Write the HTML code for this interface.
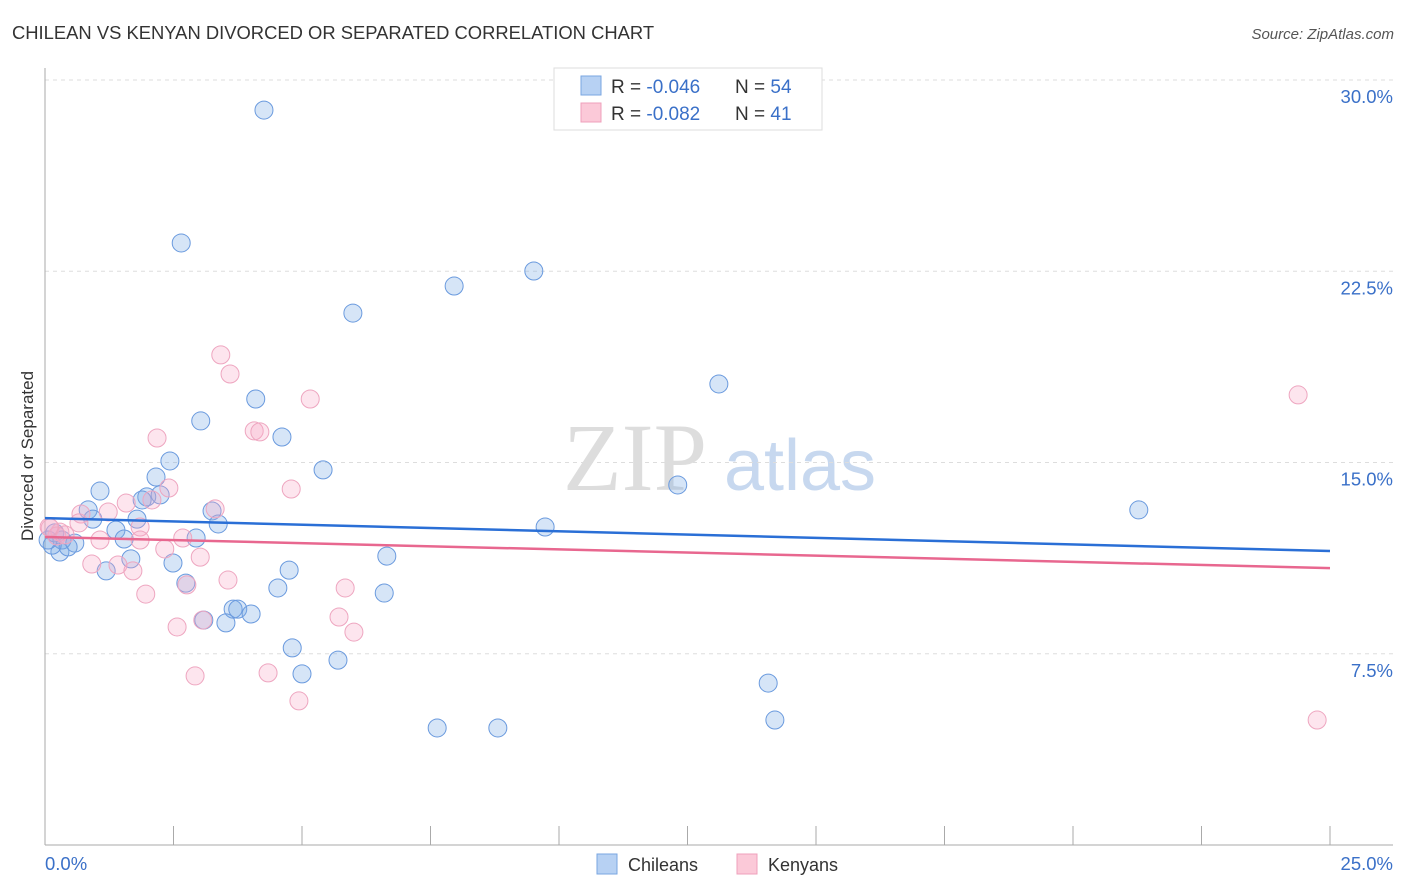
<!DOCTYPE html>
<html><head><meta charset="utf-8"><style>
body{margin:0;background:#fff;font-family:"Liberation Sans",sans-serif;}
svg{display:block}
</style></head><body>
<svg id="chart" width="1406" height="892" xmlns="http://www.w3.org/2000/svg">
<text x="12" y="39" font-size="18.4" fill="#333">CHILEAN VS KENYAN DIVORCED OR SEPARATED CORRELATION CHART</text>
<text x="1394" y="39" font-size="15" fill="#555" font-style="italic" text-anchor="end">Source: ZipAtlas.com</text>
<g>
<text x="635" y="490" font-size="96" font-family="Liberation Serif,serif" fill="#ddd" text-anchor="middle">ZIP</text>
<text x="800" y="490" font-size="72" fill="#c7d8ef" text-anchor="middle">atlas</text>
</g>
<g id="grid"></g>
<line x1="45" y1="68" x2="45" y2="845" stroke="#aaa"/>
<line x1="45" y1="845" x2="1393" y2="845" stroke="#aaa"/>
<g id="xticks"></g>
<text x="45" y="870" font-size="18.5" fill="#3a70c8">0.0%</text>
<text x="1393" y="870" font-size="18.5" fill="#3a70c8" text-anchor="end">25.0%</text>
<text transform="translate(33,456) rotate(-90)" font-size="17" fill="#333" text-anchor="middle">Divorced or Separated</text>
<g id="points"></g>
<g id="trends"></g>
<g>
<rect x="554" y="68" width="268" height="62" fill="#fff" stroke="#ddd"/>
<rect x="581" y="76" width="20" height="19" fill="#b7d1f3" stroke="#7aa6e0"/>
<rect x="581" y="103" width="20" height="19" fill="#fbc9d8" stroke="#efa0bb"/>
<text x="611" y="93" font-size="19" fill="#333">R = <tspan fill="#3a70c8">-0.046</tspan><tspan x="735">N = </tspan><tspan fill="#3a70c8">54</tspan></text>
<text x="611" y="120" font-size="19" fill="#333">R = <tspan fill="#3a70c8">-0.082</tspan><tspan x="735">N = </tspan><tspan fill="#3a70c8"> 41</tspan></text>
</g>
<g>
<rect x="597" y="854" width="20" height="20" fill="#b7d1f3" stroke="#7aa6e0"/>
<text x="628" y="871" font-size="18" fill="#333">Chileans</text>
</g>
<g>
<rect x="737" y="854" width="20" height="20" fill="#fbc9d8" stroke="#efa0bb"/>
<text x="768" y="871" font-size="18" fill="#333">Kenyans</text>
</g>
</svg>
<script>
const yTicks=[7.5,15,22.5,30];
const yTickLabels=["7.5%","15.0%","22.5%","30.0%"];
const xTicks=[0,2.5,5,7.5,10,12.5,15,17.5,20,22.5,25];
const chileX=[4.26,2.65,9.51,7.96,5.99,13.11,4.10,3.03,4.61,2.43,5.41,2.16,1.07,12.31,1.98,1.89,0.84,3.25,0.93,1.79,3.37,9.73,21.28,1.38,1.54,2.94,0.19,0.33,0.58,0.29,0.45,0.14,1.67,2.49,6.65,1.19,4.75,2.74,4.53,6.60,3.66,3.75,4.01,3.09,3.52,4.81,5.70,5.0,14.07,14.20,7.63,8.81,0.06,2.24];
const chileY=[28.82,23.61,22.51,21.92,20.86,18.08,17.49,16.63,16.0,15.06,14.71,14.43,13.88,14.12,13.65,13.53,13.14,13.10,12.78,12.78,12.59,12.47,13.14,12.35,12.0,12.04,12.24,11.96,11.84,11.49,11.69,11.76,11.22,11.06,11.33,10.75,10.78,10.27,10.08,9.88,9.25,9.25,9.06,8.82,8.71,7.73,7.25,6.71,6.35,4.90,4.59,4.59,11.96,13.73];
const kenyaX=[3.42,3.60,5.16,4.07,4.18,2.18,4.79,2.41,3.31,1.58,2.08,0.70,1.23,0.66,1.85,0.29,0.10,0.23,2.68,1.07,1.85,2.33,3.02,0.91,1.42,1.71,3.56,2.76,1.96,5.84,5.72,3.07,6.01,2.57,2.92,4.34,4.94,24.38,24.75,0.39,0.08];
const kenyaY=[19.22,18.47,17.49,16.24,16.20,15.96,13.96,14.0,13.18,13.41,13.53,12.98,13.06,12.63,12.47,12.27,12.43,12.12,12.04,11.96,11.96,11.61,11.29,11.02,10.98,10.75,10.39,10.20,9.84,10.08,8.94,8.82,8.35,8.55,6.63,6.75,5.65,17.65,4.90,12.16,12.47];
const chileTrend=[12.82,11.53];
const kenyaTrend=[12.08,10.86];
const NS="http://www.w3.org/2000/svg";
const sx=v=>45+v/25*1285;
const sy=v=>845-v*25.5;
function mk(t,a,p){const e=document.createElementNS(NS,t);for(const k in a)e.setAttribute(k,a[k]);p.appendChild(e);return e;}
const grid=document.getElementById('grid');
yTicks.forEach((t,i)=>{
  const l=mk('line',{x1:45,x2:1393,y1:sy(t),y2:sy(t),stroke:'#ddd','stroke-dasharray':'4,4'},grid);
  
  
  const tx=mk('text',{x:1393,y:sy(t)+23,'font-size':18.5,fill:'#3a70c8','text-anchor':'end'},grid);
  tx.textContent=yTickLabels[i];
  
  
});
const xt=document.getElementById('xticks');
xTicks.forEach(t=>{
  const l=mk('line',{x1:sx(t),x2:sx(t),y1:826,y2:845,stroke:'#aaa'},xt);
  
  
});
const pts=document.getElementById('points');
chileX.forEach((x,i)=>{
  const c=mk('circle',{cx:sx(x),cy:sy(chileY[i]),r:9,fill:'rgba(120,168,230,0.3)',stroke:'#6a9ade','stroke-width':1},pts);
  
  
});
kenyaX.forEach((x,i)=>{
  const c=mk('circle',{cx:sx(x),cy:sy(kenyaY[i]),r:9,fill:'rgba(247,170,198,0.3)',stroke:'#eea6c0','stroke-width':1},pts);
  
  
});
const tr=document.getElementById('trends');
const t1=mk('line',{x1:sx(0),x2:sx(25),y1:sy(chileTrend[0]),y2:sy(chileTrend[1]),stroke:'#2a6fd6','stroke-width':2.5},tr);


const t2=mk('line',{x1:sx(0),x2:sx(25),y1:sy(kenyaTrend[0]),y2:sy(kenyaTrend[1]),stroke:'#e8678f','stroke-width':2.5},tr);


</script>
</body></html>
